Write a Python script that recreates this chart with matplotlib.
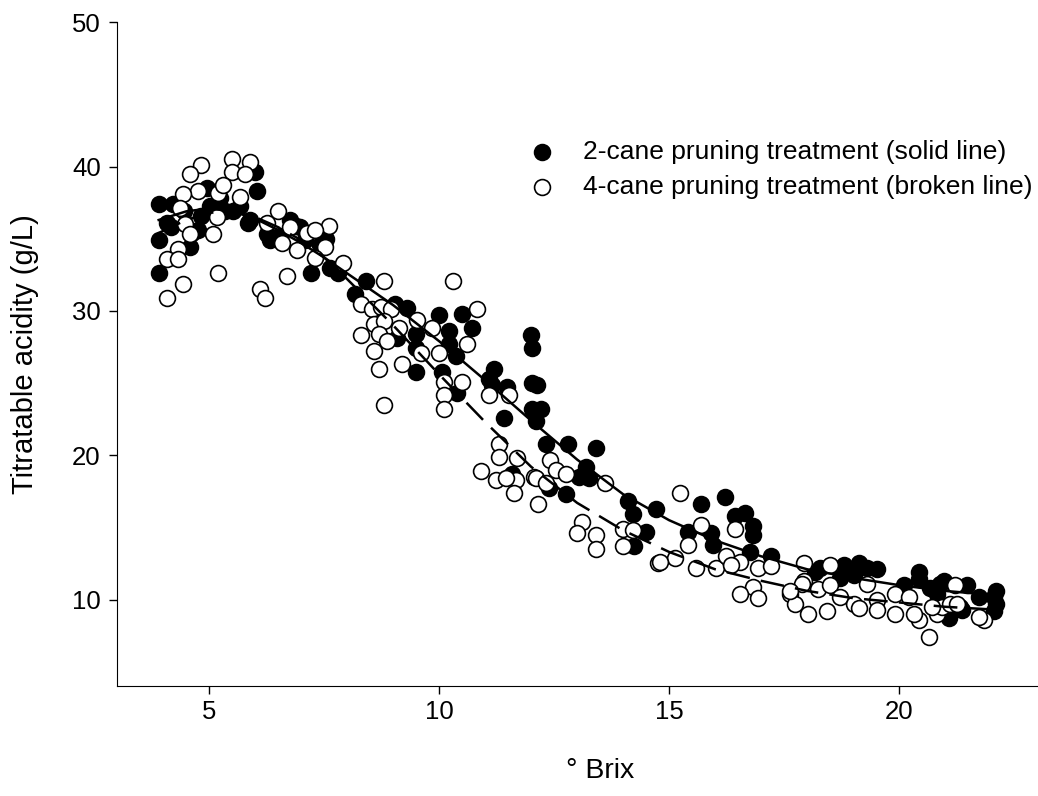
import matplotlib
matplotlib.use('Agg')
import matplotlib.pyplot as plt

plt.rcParams['font.family'] = ['Liberation Sans', 'DejaVu Sans']

# 2-cane pruning treatment (filled circles)
brix_2cane = [
    3.90, 3.90, 3.90, 4.09, 4.16, 4.22, 4.44, 4.59, 4.63, 4.76,
    4.81, 4.96, 5.02, 5.24, 5.35, 5.52, 5.67, 5.84, 5.89, 6.00,
    6.04, 6.25, 6.32, 6.54, 6.75, 6.88, 6.97, 7.08, 7.21, 7.40,
    7.53, 7.62, 7.79, 8.16, 8.40, 9.03, 9.31, 9.09, 9.50, 9.50,
    9.50, 10.00, 10.22, 10.22, 10.37, 10.06, 10.50, 10.71, 10.39, 11.19,
    11.15, 11.08, 11.47, 11.41, 11.59, 11.99, 12.01, 12.01, 12.12, 12.01,
    12.21, 12.10, 12.32, 12.81, 13.40, 13.20, 13.03, 13.25, 12.38, 12.75,
    14.11, 14.22, 14.50, 14.24, 14.72, 15.69, 16.21, 16.43, 16.65, 16.82,
    16.82, 15.41, 15.91, 15.95, 16.75, 17.21, 18.18, 18.29, 18.72, 18.81,
    19.03, 19.13, 19.31, 19.52, 20.11, 20.43, 20.43, 20.67, 20.89, 20.97,
    20.82, 21.08, 21.32, 21.36, 21.47, 21.73, 22.06, 22.06, 22.12, 22.12,
]
ta_2cane = [
    37.4, 34.9, 32.6, 36.1, 35.8, 37.4, 36.9, 34.4, 35.4, 35.6,
    36.6, 38.5, 37.3, 37.8, 36.9, 36.9, 37.3, 36.1, 36.3, 39.6,
    38.3, 35.3, 34.9, 35.2, 36.3, 35.9, 35.8, 34.9, 32.6, 34.6,
    35.0, 33.0, 32.6, 31.2, 32.1, 30.5, 30.2, 28.1, 28.4, 27.4,
    25.8, 29.7, 28.6, 27.7, 26.9, 25.8, 29.8, 28.8, 24.3, 26.0,
    24.9, 25.3, 24.7, 22.6, 18.7, 28.3, 27.4, 25.0, 24.9, 23.2,
    23.2, 22.4, 20.8, 20.8, 20.5, 19.2, 18.5, 18.4, 17.7, 17.3,
    16.8, 15.9, 14.7, 13.7, 16.3, 16.6, 17.1, 15.8, 16.0, 15.1,
    14.5, 14.7, 14.6, 13.8, 13.3, 13.0, 11.9, 12.2, 11.5, 12.4,
    11.7, 12.5, 12.2, 12.1, 11.0, 11.9, 11.4, 10.8, 11.1, 11.3,
    10.4, 8.7, 9.5, 9.3, 11.0, 10.2, 10.2, 9.2, 9.7, 10.6,
]

# 4-cane pruning treatment (open circles)
brix_4cane = [
    5.50, 5.89, 4.81, 4.59, 5.50, 5.78, 4.76, 4.42, 5.19, 5.30,
    5.67, 4.48, 4.59, 5.17, 5.09, 4.31, 4.09, 4.31, 5.19, 4.42,
    4.09, 6.10, 6.21, 6.49, 6.75, 6.58, 6.90, 6.69, 6.25, 7.12,
    4.37, 7.60, 7.29, 7.51, 7.90, 7.29, 8.81, 10.30, 8.31, 8.53,
    8.74, 8.95, 9.52, 10.82, 8.59, 8.81, 9.13, 8.31, 8.70, 8.87,
    9.85, 10.61, 9.61, 10.00, 8.59, 8.70, 9.20, 10.11, 10.50, 11.08,
    11.52, 10.11, 10.11, 8.81, 11.30, 11.30, 11.69, 10.91, 11.23, 11.67,
    12.06, 12.42, 12.53, 12.75, 11.45, 12.10, 12.32, 13.61, 11.62, 12.14,
    13.10, 12.99, 13.42, 13.40, 14.00, 14.00, 14.22, 14.76, 15.24, 15.69,
    15.41, 16.43, 15.13, 14.80, 15.58, 16.02, 16.23, 16.54, 16.93, 17.21,
    16.34, 16.82, 16.54, 16.93, 17.94, 17.94, 17.62, 17.73, 18.01, 18.51,
    19.31, 17.90, 17.64, 18.23, 18.51, 18.44, 18.72, 19.03, 19.13, 19.52,
    19.91, 19.91, 20.22, 20.43, 20.32, 20.82, 20.93, 21.10, 21.26, 21.21,
    21.84, 21.73, 20.65, 19.52, 20.71,
]
ta_4cane = [
    40.5, 40.3, 40.1, 39.5, 39.6, 39.5, 38.3, 38.1, 38.2, 38.7,
    37.9, 36.0, 35.3, 36.5, 35.3, 34.3, 33.6, 33.6, 32.6, 31.9,
    30.9, 31.5, 30.9, 36.9, 35.8, 34.7, 34.2, 32.4, 36.1, 35.4,
    37.1, 35.9, 35.6, 34.4, 33.3, 33.7, 32.1, 32.1, 30.5, 30.1,
    30.3, 30.1, 29.4, 30.1, 29.1, 29.3, 28.8, 28.3, 28.4, 27.9,
    28.8, 27.7, 27.1, 27.1, 27.2, 26.0, 26.3, 25.1, 25.1, 24.2,
    24.2, 24.2, 23.2, 23.5, 20.8, 19.9, 19.8, 18.9, 18.3, 18.3,
    18.5, 19.7, 19.0, 18.7, 18.4, 18.4, 18.1, 18.1, 17.4, 16.6,
    15.4, 14.6, 14.5, 13.5, 14.9, 13.7, 14.8, 12.5, 17.4, 15.2,
    13.8, 14.9, 12.9, 12.6, 12.2, 12.2, 13.0, 12.6, 12.2, 12.3,
    12.4, 10.9, 10.4, 10.1, 12.5, 11.3, 10.4, 9.7, 9.0, 12.4,
    11.1, 11.1, 10.6, 10.7, 11.0, 9.2, 10.2, 9.7, 9.4, 10.0,
    9.0, 10.4, 10.2, 8.6, 9.0, 9.0, 9.5, 9.7, 9.7, 11.0,
    8.6, 8.8, 7.4, 9.3, 9.5,
]

# fitted curves
curve_brix = [3.9, 4.5, 5.0, 5.5, 6.0, 6.5, 7.0, 7.5, 8.0, 9.0, 10.0, 11.0,
              12.0, 13.0, 14.0, 15.0, 16.0, 17.0, 18.0, 19.0, 20.0, 21.0, 22.1]
fit_2cane = [36.3, 36.9, 37.1, 36.9, 36.4, 35.6, 34.7, 33.7, 32.6, 30.4, 27.9, 25.2,
             22.4, 19.7, 17.3, 15.5, 14.1, 13.0, 12.1, 11.5, 11.0, 10.6, 10.3]
fit_4cane = [35.4, 36.3, 36.8, 36.9, 36.5, 35.8, 34.9, 33.7, 32.2, 29.0, 25.6, 22.3,
             19.2, 16.7, 14.8, 13.3, 12.1, 11.3, 10.6, 10.1, 9.8, 9.5, 9.3]

fig = plt.figure(figsize=(10.38, 7.96), dpi=100)
ax = fig.add_axes([0.113, 0.138, 0.886, 0.834])

ax.scatter(brix_2cane, ta_2cane, s=130, c='black', edgecolors='black',
           linewidths=1.2, zorder=2, label='2-cane pruning treatment (solid line)')
ax.scatter(brix_4cane, ta_4cane, s=130, c='white', edgecolors='black',
           linewidths=1.2, zorder=3, label='4-cane pruning treatment (broken line)')
ax.plot(curve_brix, fit_2cane, color='black', lw=1.8, zorder=4)
ax.plot(curve_brix, fit_4cane, color='black', lw=1.8, linestyle=(0, (9.5, 4.5)), zorder=4)

ax.set_xlim(3, 23)
ax.set_ylim(4, 50)
ax.set_xticks([5, 10, 15, 20])
ax.set_yticks([10, 20, 30, 40, 50])
for side in ['top', 'right']:
    ax.spines[side].set_visible(False)
ax.tick_params(direction='out', length=6, width=1, labelsize=18.5, pad=6)
ax.tick_params(axis='x', pad=4)
ax.set_xlabel('° Brix', fontsize=20.5)
ax.xaxis.set_label_coords(0.525, -0.108)
ax.set_ylabel('Titratable acidity (g/L)', fontsize=21, labelpad=24)

ax.legend(loc='upper left', bbox_to_anchor=(516 / 1038, 1 - 140 / 796),
          bbox_transform=fig.transFigure, frameon=False, borderpad=0,
          borderaxespad=0, fontsize=19, handlelength=2.0, handletextpad=0.55,
          labelspacing=0.4)

fig.savefig('out.png', dpi=100)
